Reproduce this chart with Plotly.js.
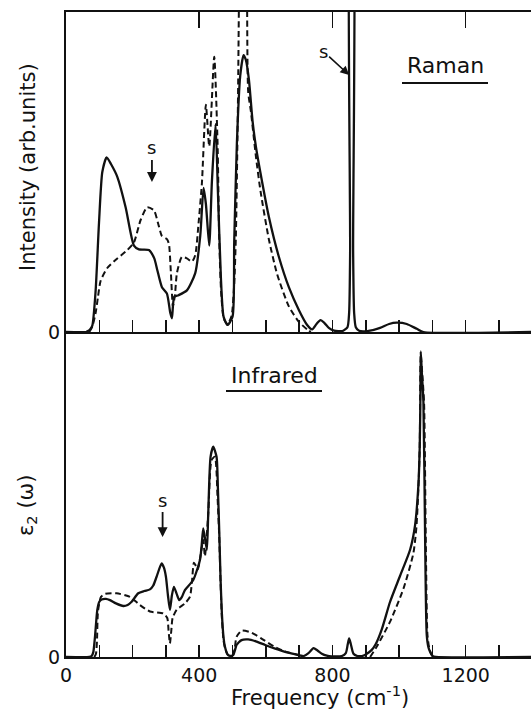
<!DOCTYPE html>
<html>
<head>
<meta charset="utf-8">
<script src="https://cdn.plot.ly/plotly-3.0.1.min.js"></script>
<style>html,body{margin:0;padding:0;background:#fff;}#chart{width:531px;height:709px;}</style>
</head>
<body>
<div id="chart"></div>
<script>
// ---- Raman (top panel), arbitrary units 0..100 ----
const ramanSolidX = [0,60,66,72,79,89,99,109,122,135,154,179,204,219,249,265,274,288,303,313,318,325,338,363,388,403,413,420,430,438,449,456,465,473,485,500,505,513,523,533,540,549,560,570,584,609,639,669,699,724,739,752,764,776,790,805,830,845,850,853,855,860,862,865,870,880,905,943,970,993,1023,1053,1073,1396];
const ramanSolidY = [0,0,0.3,0.8,2,13,34,50,54.6,52.5,48.5,39,27,25.8,25.6,23,19.4,14,12,6,4.3,11,11.5,13,18.4,30,45,40,27,47,65,44,17,4.8,2.2,4.8,28,59,80,86.5,85,79,66,58,49.6,36,23.5,14,6.9,2.2,0.8,2.5,3.7,2.8,1.2,0.4,0.3,1.5,6,25,150,150,25,6,1.5,0.4,0.3,1.3,2.5,2.9,2.5,1,0,0];
const ramanDashX = [70,79,89,96,104,124,154,184,204,224,244,264,279,288,303,309,315,321,327,333,348,363,378,388,398,408,420,430,445,455,460,466,474,485,497,505,510,516,521,530,538,543,547,555,570,584,609,634,669,699,724,735];
const ramanDashY = [0,1.7,6,11,16,20,23,25.6,28,35,39,38,33,30,29,27.5,18.4,8,11.5,18.4,23.5,23,22,24,34,46.5,71,58,86,59,29,12,4,2.5,5,15,30,70,120,170,170,120,75,69,55,44,29,18,8,3.2,0.8,0];

// ---- Infrared (bottom panel), eps2(omega) 0..100 ----
const irSolidX = [0,70,77,82,87,94,100,107,120,132,150,172,185,197,217,235,252,262,272,287,294,300,306,312,318,324,332,340,348,357,382,402,407,412,418,423,427,434,442,452,456,460,464,468,473,477,485,495,502,507,512,527,547,570,598,628,658,690,713,728,743,755,768,783,798,828,840,846,850,855,863,875,888,900,918,930,948,973,1003,1033,1048,1058,1062,1064,1065,1068,1073,1078,1083,1088,1093,1100,1110,1396];
const irSolidY = [0,0,0.3,1.5,6.2,14.5,17,17.7,17.9,17.5,16.5,15.7,16,17,19.6,20.3,20.8,22,24.7,28.8,27.5,24.7,19,14.5,19,21.6,19.5,17.5,18.5,20.6,23.7,29.8,34,39.6,36,33,44,61.6,64.7,61.6,52,39,24,13.4,6,3.2,0.8,0.3,0.6,2,3.7,5.2,5.4,4.8,3.7,2.6,1.6,0.8,0.3,1.2,2.7,2,1,0.4,0.2,0.3,1.2,4,5.7,4,1,0.3,0.3,0.8,2.2,4,8.5,17,25,33,40.6,53,65,80,94,88,78.5,37.5,6.8,3,1.6,0.3,0,0];
const irDashX = [85,90,93,96,105,117,152,192,222,252,292,304,308,312,316,320,332,357,372,378,384,390,396,402,412,417,427,437,447,455,460,464,468,473,478,485,495,502,507,512,527,557,588,628,655,690,713,null,913,933,973,1013,1043,1052,1058,1062,1065,1069,1075,1080,1085,1090,1096,1105];
const irDashY = [0,1,5,14,18.5,19.4,19.6,18.5,16,14,13.4,12,8,4.2,8,12,14.5,16.5,18.5,23,29,28,27,30,36,31,44,60.6,61.6,49,37,23,12,5,2.5,0.8,0.3,0.8,3,6.2,8.1,7.5,5.6,3,1.8,0.8,0.3,null,0,3.2,10.9,21,32,40,52,65,93,88,78,37,7,3,1,0];

// ---- ticks / labels ----
const xTickVals = [0,100,200,300,400,500,600,700,800,900,1000,1100,1200,1300];
const xTickText = ['0','','','','400','','','','800','','','','1200',''];
const topMajorTicks = [400,800,1200];
const xRange = [0,1396];

const FONT = 'DejaVu Sans, Liberation Sans, sans-serif';
const solid = {color:'#111', width:2.3, shape:'spline', smoothing:0.6};
const dashed = {color:'#111', width:2, dash:'6px,3.5px', shape:'spline', smoothing:0.6};

const traces = [
  {x: ramanSolidX, y: ramanSolidY, xaxis:'x2', yaxis:'y2', mode:'lines', line: solid, hoverinfo:'skip'},
  {x: ramanDashX, y: ramanDashY, xaxis:'x2', yaxis:'y2', mode:'lines', line: dashed, hoverinfo:'skip'},
  {x: irSolidX, y: irSolidY, xaxis:'x', yaxis:'y', mode:'lines', line: solid, hoverinfo:'skip'},
  {x: irDashX, y: irDashY, xaxis:'x', yaxis:'y', mode:'lines', line: dashed, connectgaps:false, hoverinfo:'skip'},
  {x: [], y: [], xaxis:'x3', yaxis:'y2', mode:'lines', hoverinfo:'skip'}
];

const split = 325/645;
const baseX = {
  range: xRange, tickmode:'array', tickvals: xTickVals, ticktext: xTickText,
  ticks:'inside', ticklen:12, tickwidth:1.5, tickcolor:'#111',
  showline:true, linewidth:2, linecolor:'#111', showgrid:false, zeroline:false,
  tickfont:{family:FONT, size:19, color:'#111'}, fixedrange:true
};
const baseY = {
  range:[0,100], tickmode:'array', tickvals:[0], ticktext:['0'], ticks:'',
  showline:true, linewidth:2, linecolor:'#111', showgrid:false, zeroline:false,
  tickfont:{family:FONT, size:19, color:'#111'}, fixedrange:true
};

const layout = {
  width:531, height:709,
  margin:{l:66, r:0, t:12, b:52, pad:0},
  paper_bgcolor:'#fff', plot_bgcolor:'rgba(0,0,0,0)',
  showlegend:false,
  font:{family:FONT, color:'#111'},
  xaxis: Object.assign({}, baseX, {anchor:'y', domain:[0,1]}),
  xaxis2: Object.assign({}, baseX, {anchor:'y2', domain:[0,1], showticklabels:false}),
  xaxis3: Object.assign({}, baseX, {anchor:'y2', overlaying:'x2', side:'top', tickvals: topMajorTicks, ticklen:16, showticklabels:false}),
  yaxis: Object.assign({}, baseY, {anchor:'x', domain:[0, split]}),
  yaxis2: Object.assign({}, baseY, {anchor:'x2', domain:[split, 1]}),
  annotations:[
    {xref:'paper', yref:'paper', x:(28-66)/465, y:(657-167)/645, text:'Intensity (arb.units)', textangle:-90, showarrow:false, xanchor:'center', yanchor:'middle', font:{family:FONT, size:21}},
    {xref:'paper', yref:'paper', x:(27-66)/465, y:(657-506)/645, text:'\u03b5<sub>2</sub> (\u03c9)', textangle:-90, showarrow:false, xanchor:'center', yanchor:'middle', font:{family:FONT, size:21}},
    {xref:'paper', yref:'paper', x:(320-66)/465, y:(657-696)/645, text:'Frequency (cm<sup>-1</sup>)', showarrow:false, xanchor:'center', yanchor:'middle', font:{family:FONT, size:21}},
    {xref:'paper', yref:'paper', x:(445-66)/465, y:(657-66)/645, text:'Raman', showarrow:false, xanchor:'center', yanchor:'middle', font:{family:FONT, size:22}},
    {xref:'paper', yref:'paper', x:(274-66)/465, y:(657-376)/645, text:'Infrared', showarrow:false, xanchor:'center', yanchor:'middle', font:{family:FONT, size:22}},
    {xref:'x2', yref:'y2', x:258, y:46.9, text:'s', showarrow:true, ax:0, ay:-34, arrowhead:2, arrowsize:1.1, arrowwidth:1.8, arrowcolor:'#111', font:{family:FONT, size:18}},
    {xref:'x2', yref:'y2', x:850, y:80.3, text:'s', showarrow:true, ax:-26, ay:-24, arrowhead:2, arrowsize:1.1, arrowwidth:1.6, arrowcolor:'#111', font:{family:FONT, size:18}},
    {xref:'x', yref:'y', x:290, y:36.9, text:'s', showarrow:true, ax:0, ay:-37, arrowhead:2, arrowsize:1.1, arrowwidth:1.8, arrowcolor:'#111', font:{family:FONT, size:18}}
  ],
  shapes:[
    {type:'line', xref:'paper', yref:'paper', x0:(402-66)/465, x1:(488-66)/465, y0:(657-83)/645, y1:(657-83)/645, line:{color:'#111', width:1.8}},
    {type:'line', xref:'paper', yref:'paper', x0:(226-66)/465, x1:(322-66)/465, y0:(657-391)/645, y1:(657-391)/645, line:{color:'#111', width:1.8}}
  ]
};

Plotly.newPlot('chart', traces, layout, {staticPlot:true, displayModeBar:false});
</script>
</body>
</html>
